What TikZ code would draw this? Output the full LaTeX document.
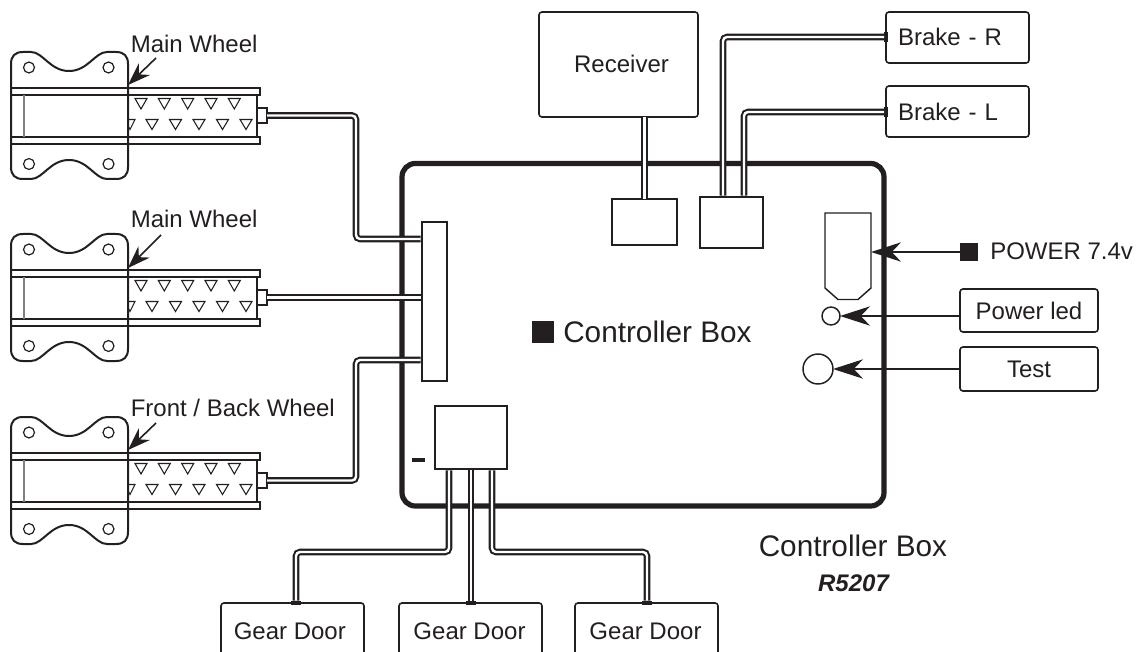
\documentclass[tikz,border=0pt]{standalone}
\usepackage{fontspec}
\setmainfont{Liberation Sans}
\usetikzlibrary{arrows.meta}
\definecolor{ink}{HTML}{231F20}
\tikzset{
  lab/.style={font=\fontsize{18}{20}\selectfont,text=ink,inner sep=0pt,anchor=base west},
  big/.style={font=\fontsize{22.3}{24}\selectfont,text=ink,inner sep=0pt,anchor=base west},
  rbox/.style={draw=ink,line width=1.2pt,rounded corners=2.2pt,fill=white,font=\fontsize{18}{20}\selectfont,text=ink,inner sep=0pt,outer sep=0pt,minimum width=#1*0.75pt},
  hh/.style={minimum height=#1*0.75pt},
  tx/.style={text height=#1,text depth=0pt},
  block/.style={draw=ink,line width=1.1pt,fill=white,inner sep=0pt,outer sep=0pt},
  wire/.style={draw=ink,line width=1.55pt,double=white,double distance=1.8pt,rounded corners=3pt},
  tab/.style={fill=ink,inner sep=0pt,outer sep=0pt,minimum width=#1},
  thinline/.style={draw=ink,line width=1.1pt},
  bigarrow/.style={draw=ink,line width=1.3pt,-{Stealth[length=22.5pt,width=14.5pt,inset=7pt]}},
  smallarrow/.style={draw=ink,line width=1.2pt,-{Stealth[length=17pt,width=12pt,inset=5.5pt]}},
  railbar/.style={draw=ink,line width=1.6pt,fill=white},
  tri/.style={draw=ink,line width=0.8pt},
}
\newcommand{\wheelunit}[2]{%
  \begin{scope}[shift={(0,#2)}]
    \draw[railbar] (11,88) rectangle (260,95);
    \draw[railbar] (11,137) rectangle (260,144);
    \draw[thinline] (257,95) -- (257,137);
    \draw[draw=gray,line width=1.1pt] (24,95) -- (24,137);
    \node[block,line width=1.4pt,minimum width=7.5pt,minimum height=11.2pt] (stub#1) at (262,115.5) {};
    \draw[thinline,line width=1.5pt]
      (11,64) .. controls (11,56) and (15,52) .. (23,52) -- (31,52)
      .. controls (43,52) and (50,71) .. (69,71)
      .. controls (88,71) and (95,52) .. (107,52) -- (116,52)
      .. controls (124,52) and (128,56) .. (128,64) -- (128,167)
      .. controls (128,175) and (124,179) .. (116,179) -- (107,179)
      .. controls (95,179) and (88,160) .. (69,160)
      .. controls (50,160) and (43,179) .. (31,179) -- (23,179)
      .. controls (15,179) and (11,175) .. (11,167) -- cycle;
    \foreach \hx/\hy in {29/67.5,108.5/67.5,29/164,108.5/164}
      \draw[draw=ink,line width=0.9pt] (\hx,\hy) circle[radius=4.1pt];
    \foreach \tx in {141,164.3,187.7,211,234.3}
      \draw[tri] (\tx-6,98.5) -- (\tx+6,98.5) -- (\tx,109) -- cycle;
    \foreach \tx in {152,175.5,199,222.5,246}
      \draw[tri] (\tx-6,119.5) -- (\tx+6,119.5) -- (\tx,129.5) -- cycle;
    \draw[tri] (128,119.5) -- (135,119.5) -- (130,129.5) -- (128,125.5);
  \end{scope}}
\begin{document}
\begin{tikzpicture}[x=0.75pt,y=-0.75pt]
\useasboundingbox (0,0) rectangle (1138,652);

% controller box outline
\draw[draw=ink,line width=3.9pt,rounded corners=10pt] (402,163.5) rectangle (884,506) ;

% wheels
\wheelunit{A}{0}
\wheelunit{B}{182}
\wheelunit{C}{365}

% inner blocks
\node[block,minimum width=25*0.75pt,minimum height=159*0.75pt] (rail) at (434.5,301.5) {};
\node[block,minimum width=72*0.75pt,minimum height=63*0.75pt] (gear) at (471,437.5) {};
\node[block,minimum width=65*0.75pt,minimum height=46*0.75pt] (rxport) at (644.5,222) {};
\node[block,minimum width=63*0.75pt,minimum height=51*0.75pt] (brakeport) at (731.5,222.5) {};

% outer boxes
\node[rbox=159,hh=105,tx=12.75pt] (receiver) at (618.5,64.5) {\hspace*{4.5pt}Receiver};
\node[rbox=143,hh=51,tx=12.75pt,text width=119*0.75pt,align=left] (braker) at (957.5,37.5) {Brake - R};
\node[rbox=143,hh=51,tx=14.25pt,text width=119*0.75pt,align=left] (brakel) at (957.5,111.5) {Brake - L};
\node[rbox=138,hh=43,tx=12.75pt] (ledbox) at (1029,310.5) {Power led};
\node[rbox=138,hh=44,tx=12pt] (testbox) at (1029,369) {Test};
\node[rbox=143,hh=53,tx=14.25pt] (door1) at (292.5,629.5) {\hspace*{-4pt}Gear Door};
\node[rbox=143,hh=53,tx=14.25pt] (door2) at (470.5,629.5) {\hspace*{-1.5pt}Gear Door};
\node[rbox=143,hh=53,tx=14.25pt] (door3) at (646.5,629.5) {\hspace*{-1.5pt}Gear Door};

% termination tabs
\node[tab=3pt,minimum height=7.5pt] (tR) at (886,37) {};
\node[tab=3pt,minimum height=7.5pt] (tL) at (886,112) {};
\node[tab=7.5pt,minimum height=3.5pt] (t1) at (296,603) {};
\node[tab=7.5pt,minimum height=3.5pt] (t2) at (471,603) {};
\node[tab=7.5pt,minimum height=3.5pt] (t3) at (647,603) {};
\node[tab=1.5pt,minimum height=5pt] (p1) at (421.5,239) {};
\node[tab=1.5pt,minimum height=5pt] (p2) at (421.5,297.5) {};
\node[tab=1.5pt,minimum height=5pt] (p3) at (421.5,360) {};
\node[tab=5pt,minimum height=2pt] (g1) at (449,469) {};
\node[tab=5pt,minimum height=2pt] (g2) at (471,469) {};
\node[tab=5pt,minimum height=2pt] (g3) at (492,469) {};
\node[tab=5pt,minimum height=2pt] (b1) at (723,197) {};
\node[tab=5pt,minimum height=2pt] (b2) at (744,197) {};

% wires
\draw[wire] (stubA.east) -- (356,115.5) -- (356,239) -- (p1.west);
\draw[wire] (stubB.east) -- (p2.west);
\draw[wire] (stubC.east) -- (356,480.5) -- (356,360) -- (p3.west);
\draw[wire] (g1.south) -- (449,552) -- (296,552) -- (t1.north);
\draw[wire] (g2.south) -- (t2.north);
\draw[wire] (g3.south) -- (492,552) -- (647,552) -- (t3.north);
\draw[wire] (receiver.south -| rxport.north) -- (rxport.north);
\draw[wire] (b1.north) -- (723,37) -- (tR.west);
\draw[wire] (b2.north) -- (744,112) -- (tL.west);

% small marks
\node[tab=10pt,minimum height=3pt] (dash) at (418.5,460) {};

% power socket
\draw[thinline] (825,213) -- (871,213) -- (871,288) -- (858,299.5) -- (838,299.5) -- (825,288) -- cycle;
\coordinate (socket) at (871,252);
\node[fill=ink,inner sep=0pt,outer sep=0pt,minimum size=18*0.75pt] (powersq) at (969,252) {};
\draw[bigarrow] (powersq.west) -- (socket);
\node[lab] (powerlab) at (990,260) {POWER 7.4v};

\node[draw=ink,line width=1.1pt,circle,inner sep=0pt,outer sep=0pt,minimum size=18*0.75pt] (led) at (831,316) {};
\draw[bigarrow] (ledbox.west |- led.east) -- (led.east);
\node[draw=ink,line width=1.1pt,circle,inner sep=0pt,outer sep=0pt,minimum size=30*0.75pt] (testbtn) at (818,369) {};
\draw[bigarrow] (testbox.west) -- (testbtn.east);

% wheel labels
\node[lab] (mw1) at (130.5,53) {Main Wheel};
\node[lab] (mw2) at (130.5,228) {Main Wheel};
\node[lab] (fb) at (130.5,416) {Front / Back Wheel};
\coordinate (a1s) at (156,58);  \coordinate (a1e) at (128,85);
\coordinate (a2s) at (161,235); \coordinate (a2e) at (128,268);
\coordinate (a3s) at (156,423); \coordinate (a3e) at (128,450);
\draw[smallarrow] (a1s) -- (a1e);
\draw[smallarrow] (a2s) -- (a2e);
\draw[smallarrow] (a3s) -- (a3e);

% centre and caption
\node[fill=ink,inner sep=0pt,outer sep=0pt,minimum size=22*0.75pt] (ctrlsq) at (543,332) {};
\node[big] (ctrl) at (563,342) {Controller Box};
\node[big] (caption) at (758.5,556) {Controller Box};
\node[lab,anchor=base,font=\fontsize{18}{20}\selectfont\bfseries\itshape] (model) at (853.5,591) {R5207};
\end{tikzpicture}
\end{document}
